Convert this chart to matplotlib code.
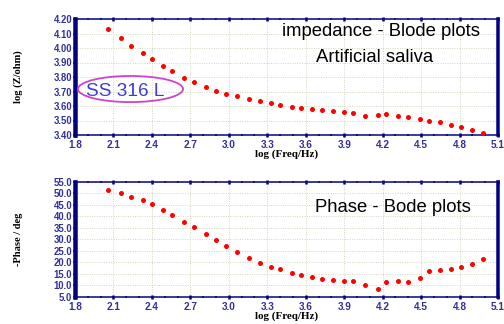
import matplotlib
matplotlib.use("Agg")
import matplotlib.pyplot as plt
from matplotlib.patches import Ellipse
import numpy as np

# donnees
log_f = [2.06, 2.16, 2.24, 2.33, 2.40, 2.49, 2.56, 2.65, 2.73, 2.82, 2.90, 2.98,
         3.06, 3.16, 3.24, 3.33, 3.40, 3.49, 3.56, 3.65, 3.73, 3.81, 3.90, 3.97,
         4.06, 4.16, 4.23, 4.32, 4.40, 4.49, 4.56, 4.65, 4.73, 4.81, 4.90, 4.98]
log_z = [4.130, 4.067, 4.016, 3.966, 3.924, 3.876, 3.841, 3.795, 3.765, 3.733, 3.703, 3.680,
         3.667, 3.648, 3.634, 3.618, 3.607, 3.595, 3.586, 3.579, 3.572, 3.566, 3.557, 3.552,
         3.533, 3.536, 3.543, 3.533, 3.526, 3.508, 3.499, 3.492, 3.471, 3.455, 3.436, 3.416]
phase = [51.4, 49.9, 48.5, 46.9, 45.2, 42.8, 40.5, 37.6, 35.2, 32.3, 29.7, 27.2,
         24.3, 21.7, 19.8, 18.0, 16.9, 15.3, 14.3, 13.4, 12.8, 12.3, 12.0, 12.0,
         10.1, 8.4, 11.3, 11.7, 11.4, 13.1, 16.0, 16.6, 17.0, 18.0, 19.3, 21.3]

x_ticks = np.arange(1.8, 5.11, 0.3)
z_ticks = np.arange(3.40, 4.201, 0.10)
ph_ticks = np.arange(5.0, 55.01, 5.0)

NAVY = "#000080"
TICKC = "#30309a"

fig = plt.figure(figsize=(7, 4.5), dpi=72)


def style_axes(ax, yticks, yfmt, ylabel, xlab_y):
    ax.set_xlim(1.8, 5.1)
    ax.set_ylim(yticks[0], yticks[-1])
    ax.set_xticks(x_ticks)
    ax.set_xticklabels(["%.1f" % v for v in x_ticks])
    ax.set_xticks(np.arange(1.8, 5.11, 0.1), minor=True)
    ax.set_yticks(yticks)
    ax.set_yticklabels([yfmt % v for v in yticks])
    for s in ["top", "bottom"]:
        ax.spines[s].set_color(NAVY)
        ax.spines[s].set_linewidth(1.5)
    ax.spines["left"].set_color(NAVY)
    ax.spines["left"].set_linewidth(4.5)
    ax.spines["right"].set_color(NAVY)
    ax.spines["right"].set_linewidth(3.5)
    ax.tick_params(axis="x", which="major", direction="inout", length=4, width=2.5,
                   color=NAVY, top=True, labelsize=10, labelcolor=TICKC, pad=3)
    ax.tick_params(axis="x", which="minor", direction="inout", length=2, width=1.5,
                   color=NAVY, top=True)
    ax.tick_params(axis="y", which="major", direction="inout", length=4, width=1.5,
                   color=NAVY, labelsize=9.5, labelcolor=TICKC, pad=1)
    for lab in ax.get_xticklabels() + ax.get_yticklabels():
        lab.set_fontweight("bold")
        lab.set_family("Liberation Sans")
    ax.grid(True, which="major", color="#c8d2b0", linestyle=":", linewidth=0.9)
    ax.set_xlabel("log (Freq/Hz)", family="Liberation Serif", fontweight="bold",
                  fontsize=11)
    ax.set_ylabel(ylabel, family="Liberation Serif", fontweight="bold",
                  fontsize=10.5)
    ax.xaxis.set_label_coords(0.5, xlab_y)
    ax.yaxis.set_label_coords(-0.122, 0.5)


ax1 = fig.add_axes([75 / 504, 1 - 135 / 324, 423 / 504, 116 / 324])
ax1.plot(log_f, log_z, "o", color="red", markersize=5, markeredgewidth=0, zorder=3)
style_axes(ax1, z_ticks, "%.2f", "log (Z/ohm)", -0.125)
ax1.text(0.723, 0.888, "impedance - Blode plots", transform=ax1.transAxes,
         ha="center", va="center", fontsize=18.5, family="Liberation Sans")
ax1.text(0.709, 0.672, "Artificial saliva", transform=ax1.transAxes,
         ha="center", va="center", fontsize=18.5, family="Liberation Sans")
ell = Ellipse((2.233, 3.717), 0.82, 0.18, fill=False, edgecolor="#cc44cc",
              linewidth=1.8, clip_on=False, zorder=4)
ax1.add_patch(ell)
ax1.text(2.195, 3.70, "SS 316 L", ha="center", va="center", fontsize=19,
         color="#3c3ce0", family="Liberation Sans", zorder=5)

ax2 = fig.add_axes([75 / 504, 1 - 296.7 / 324, 423 / 504, 115 / 324])
ax2.plot(log_f, phase, "o", color="red", markersize=5, markeredgewidth=0, zorder=3)
style_axes(ax2, ph_ticks, "%.1f", "-Phase / deg", -0.13)
ax2.text(0.752, 0.78, "Phase - Bode plots", transform=ax2.transAxes,
         ha="center", va="center", fontsize=18.5, family="Liberation Sans")

fig.savefig("out.png", dpi=72)
